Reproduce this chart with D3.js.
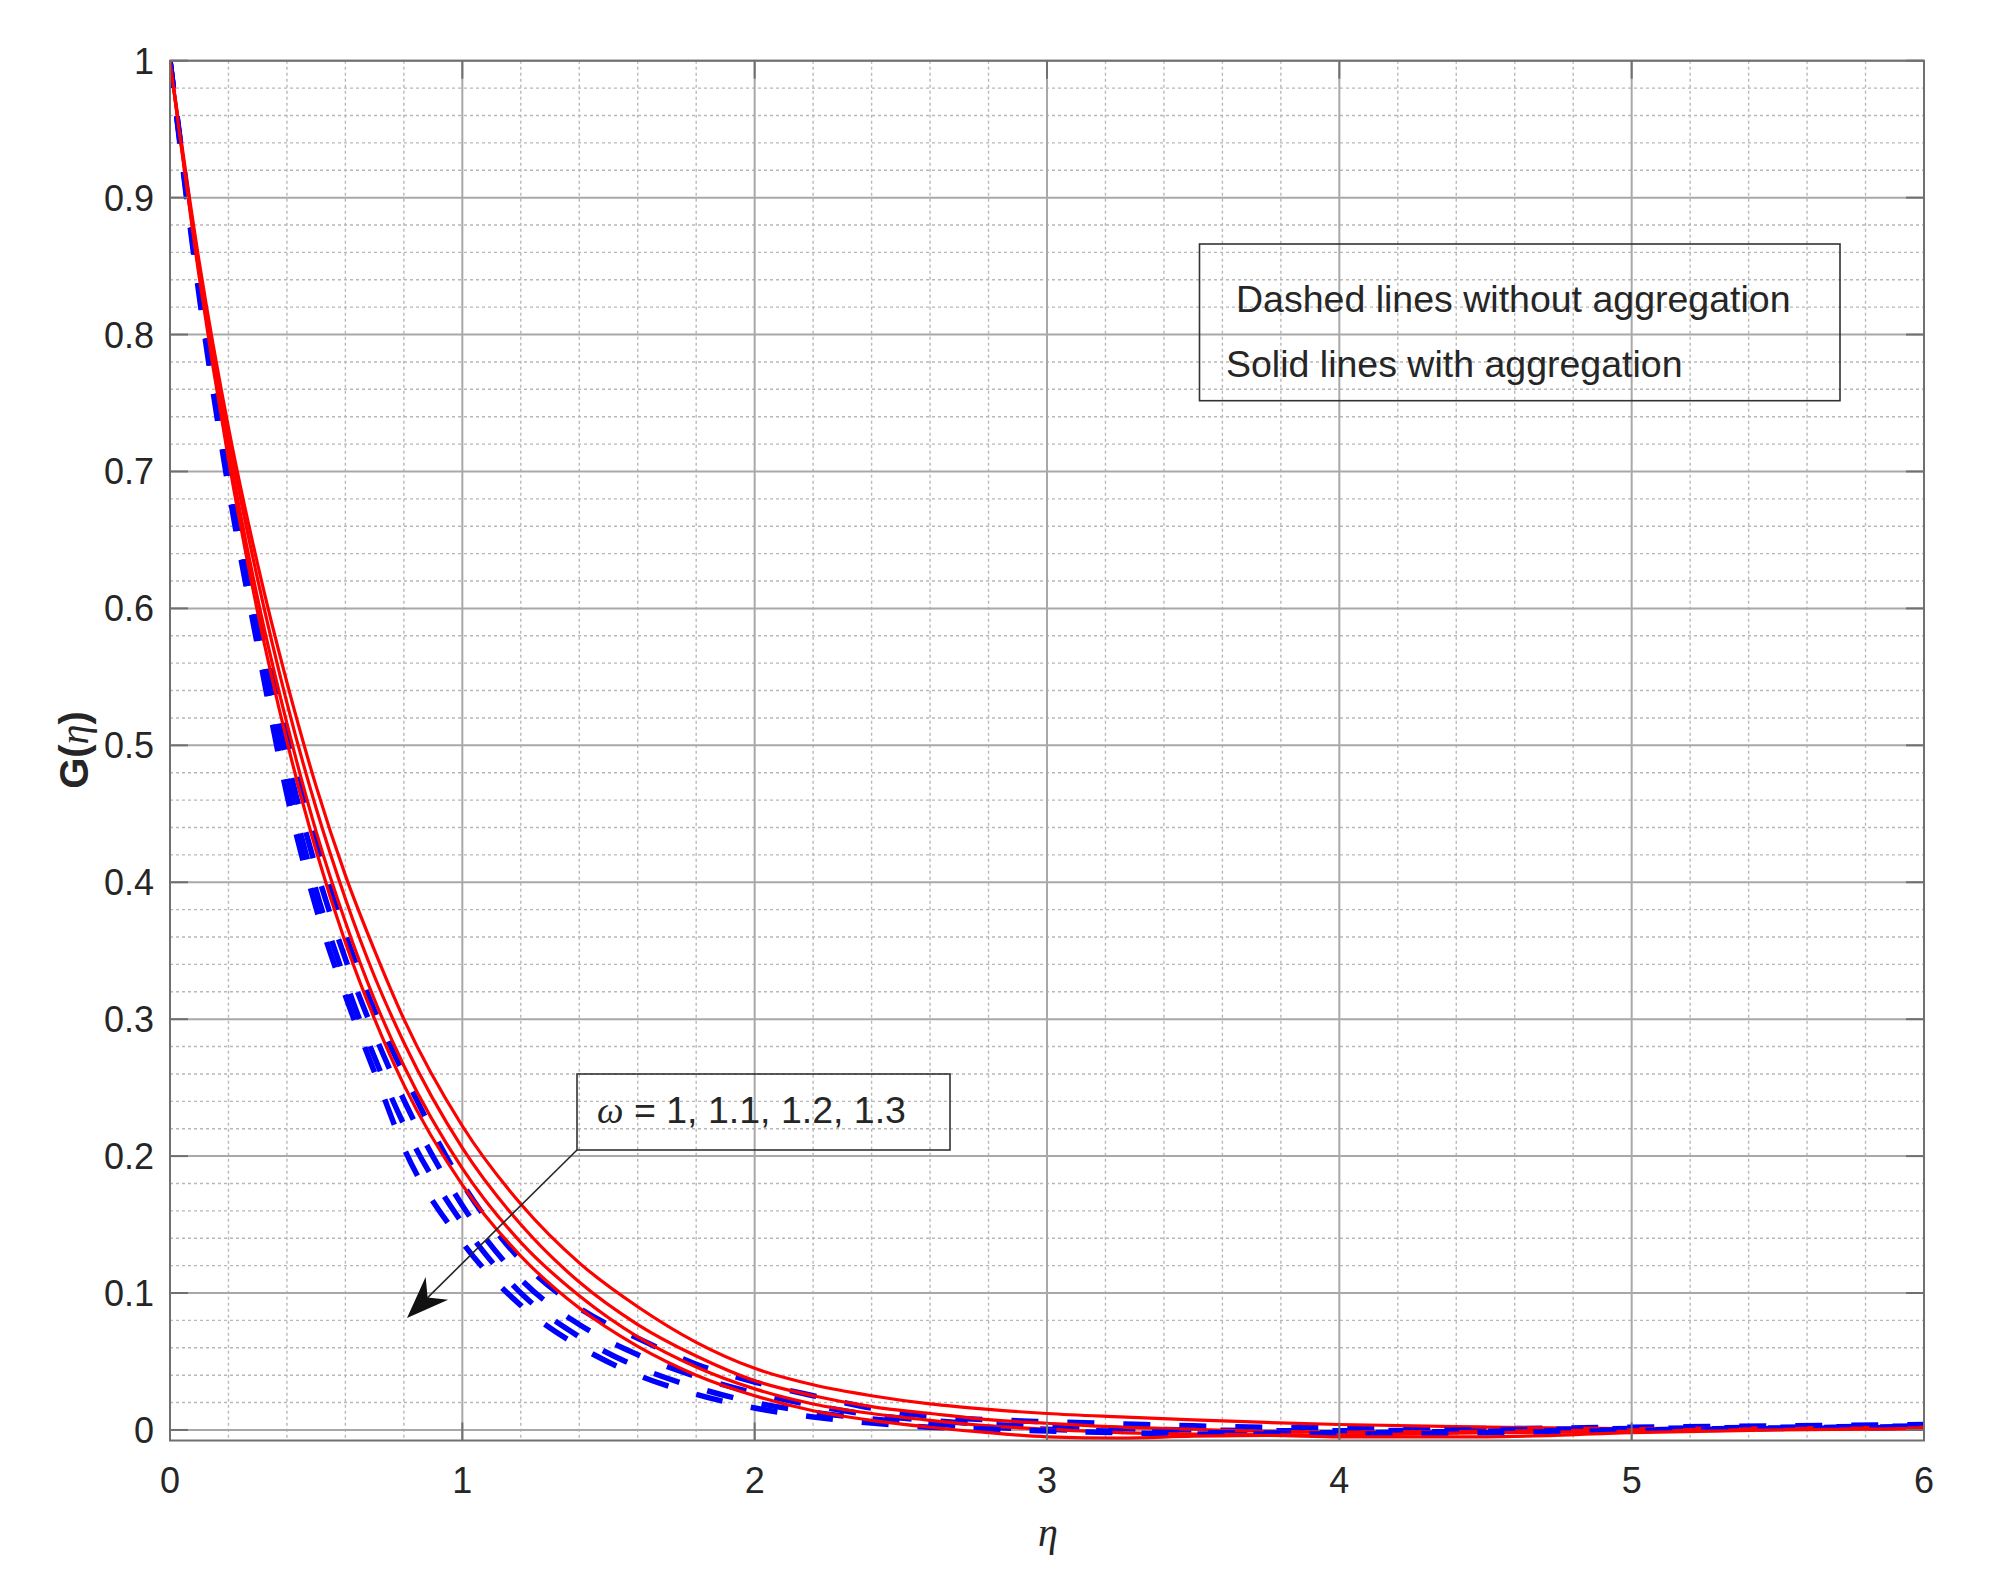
<!DOCTYPE html>
<html>
<head>
<meta charset="utf-8">
<script src="https://cdn.jsdelivr.net/npm/d3@7"></script>
<style>
  body { margin: 0; background: #fff; }
  text { font-family: "Liberation Sans", Arial, sans-serif; fill: #262626; }
</style>
</head>
<body>
<div id="chart"></div>
<script>
const eta = [0, 0.1, 0.2, 0.3, 0.4, 0.5, 0.6, 0.7, 0.8, 1.0, 1.2, 1.4, 1.6, 1.8, 2.0,
             2.2, 2.4, 2.6, 2.8, 3.0, 3.25, 3.5, 3.75, 4.0, 4.5, 5.0, 5.5, 6.0];

const omegas = [1, 1.1, 1.2, 1.3];

// dashed blue: without aggregation
const blueW1  = [1, 0.840, 0.705, 0.598, 0.505, 0.428, 0.362, 0.306, 0.260, 0.180, 0.124, 0.089, 0.067, 0.048, 0.035,
                 0.025, 0.016, 0.010, 0.0075, 0.006, 0.0045, 0.003, 0.002, 0.0015, 0.001, 0.002, 0.003, 0.004];
const blueW11 = [1, 0.836, 0.697, 0.586, 0.490, 0.410, 0.344, 0.289, 0.241, 0.164, 0.110, 0.077, 0.055, 0.039, 0.027,
                 0.018, 0.011, 0.007, 0.004, 0.0025, 0.001, 0.0, -0.0005, -0.0005, 0.0, 0.001, 0.002, 0.003];
const blueW12 = [1, 0.832, 0.692, 0.577, 0.476, 0.394, 0.328, 0.272, 0.223, 0.151, 0.100, 0.068, 0.046, 0.031, 0.020,
                 0.013, 0.008, 0.0045, 0.002, 0.0005, -0.001, -0.002, -0.0022, -0.002, -0.001, 0.0, 0.0015, 0.0025];
const blueW13 = [1, 0.828, 0.688, 0.572, 0.464, 0.381, 0.317, 0.261, 0.206, 0.137, 0.091, 0.061, 0.040, 0.026, 0.016,
                 0.0095, 0.005, 0.002, 0.0005, -0.0008, -0.002, -0.003, -0.003, -0.003, -0.002, -0.0005, 0.001, 0.002];

// solid red: with aggregation
const redW1  = [1, 0.853, 0.732, 0.632, 0.546, 0.470, 0.405, 0.350, 0.300, 0.222, 0.165, 0.122, 0.090, 0.064, 0.045,
                0.033, 0.025, 0.019, 0.015, 0.012, 0.0095, 0.0073, 0.0055, 0.004, 0.002, 0.001, 0.0015, 0.002];
const redW11 = [1, 0.848, 0.725, 0.621, 0.531, 0.454, 0.388, 0.331, 0.283, 0.206, 0.150, 0.108, 0.077, 0.054, 0.036,
                0.025, 0.017, 0.012, 0.0075, 0.0049, 0.002, 0.0005, -0.001, -0.0015, -0.001, 0.0, 0.001, 0.0015];
const redW12 = [1, 0.845, 0.716, 0.607, 0.516, 0.437, 0.371, 0.314, 0.266, 0.191, 0.137, 0.098, 0.068, 0.046, 0.030,
                0.019, 0.012, 0.007, 0.003, 0.0005, -0.002, -0.003, -0.0035, -0.0035, -0.002, -0.001, 0.0005, 0.001];
const redW13 = [1, 0.842, 0.709, 0.597, 0.503, 0.423, 0.356, 0.300, 0.252, 0.179, 0.127, 0.089, 0.061, 0.040, 0.025,
                0.014, 0.007, 0.002, -0.002, -0.005, -0.006, -0.0045, -0.004, -0.005, -0.005, -0.002, 0.0, 0.001];

const blueSeries = [blueW1, blueW11, blueW12, blueW13];
const redSeries = [redW1, redW11, redW12, redW13];

const xTicks = [0, 1, 2, 3, 4, 5, 6];
const yTicks = [0, 0.1, 0.2, 0.3, 0.4, 0.5, 0.6, 0.7, 0.8, 0.9, 1];
const legendLines = ["Dashed lines without aggregation", "Solid lines with aggregation"];
const omegaLabel = " = " + omegas.join(", ");

const W = 2000, H = 1588;
const plotL = 170, plotR = 1924, plotT = 60.7, plotB = 1440.5;

const svg = d3.select("#chart").append("svg")
    .attr("width", W)
    .attr("height", H);

const x = d3.scaleLinear().domain([0, 6]).range([plotL, plotR]);
const y = d3.scaleLinear().domain([-0.0077, 1]).range([plotB, plotT]);

// grid
const grid = svg.append("g");
const minorX = d3.range(0, 6.001, 0.2).filter(v => Math.abs(v - Math.round(v)) > 1e-6);
const minorY = d3.range(0, 1.001, 0.02).filter(v => Math.abs(v * 10 - Math.round(v * 10)) > 1e-6);

grid.selectAll(".mx").data(minorX).enter().append("line")
    .attr("x1", d => x(d)).attr("x2", d => x(d))
    .attr("y1", plotT).attr("y2", plotB)
    .attr("stroke", "#b8b8b8").attr("stroke-width", 1.4).attr("stroke-dasharray", "3,3");
grid.selectAll(".my").data(minorY).enter().append("line")
    .attr("x1", plotL).attr("x2", plotR)
    .attr("y1", d => y(d)).attr("y2", d => y(d))
    .attr("stroke", "#b8b8b8").attr("stroke-width", 1.4).attr("stroke-dasharray", "3,3");
grid.selectAll(".gx").data(xTicks).enter().append("line")
    .attr("x1", d => x(d)).attr("x2", d => x(d))
    .attr("y1", plotT).attr("y2", plotB)
    .attr("stroke", "#a8a8a8").attr("stroke-width", 2);
grid.selectAll(".gy").data(yTicks).enter().append("line")
    .attr("x1", plotL).attr("x2", plotR)
    .attr("y1", d => y(d)).attr("y2", d => y(d))
    .attr("stroke", "#a8a8a8").attr("stroke-width", 2);

// curves
svg.append("clipPath").attr("id", "plotclip")
  .append("rect")
    .attr("x", plotL).attr("y", plotT)
    .attr("width", plotR - plotL).attr("height", plotB - plotT);

const line = d3.line()
    .x((d, i) => x(eta[i]))
    .y(d => y(d))
    .curve(d3.curveMonotoneX);

const curves = svg.append("g").attr("clip-path", "url(#plotclip)");
omegas.forEach((w, k) => {
    curves.append("path")
        .attr("d", line(blueSeries[k]))
        .attr("fill", "none")
        .attr("stroke", "#0000ff")
        .attr("stroke-width", 5.5)
        .attr("stroke-dasharray", "27,29");
    curves.append("path")
        .attr("d", line(redSeries[k]))
        .attr("fill", "none")
        .attr("stroke", "#ff0000")
        .attr("stroke-width", 3.2);
});

// box and ticks
const axisColor = "#707070";
svg.append("rect")
    .attr("x", plotL).attr("y", plotT)
    .attr("width", plotR - plotL).attr("height", plotB - plotT)
    .attr("fill", "none").attr("stroke", axisColor).attr("stroke-width", 2);

const tl = 18;
const ticks = svg.append("g").attr("stroke", axisColor).attr("stroke-width", 2);
xTicks.forEach(t => {
    ticks.append("line").attr("x1", x(t)).attr("x2", x(t)).attr("y1", plotB).attr("y2", plotB - tl);
    ticks.append("line").attr("x1", x(t)).attr("x2", x(t)).attr("y1", plotT).attr("y2", plotT + tl);
});
yTicks.forEach(t => {
    ticks.append("line").attr("x1", plotL).attr("x2", plotL + tl).attr("y1", y(t)).attr("y2", y(t));
    ticks.append("line").attr("x1", plotR).attr("x2", plotR - tl).attr("y1", y(t)).attr("y2", y(t));
});

svg.append("g").selectAll("text").data(xTicks).enter().append("text")
    .attr("x", d => x(d))
    .attr("y", 1493)
    .attr("text-anchor", "middle")
    .attr("font-size", 36)
    .text(d => d);

svg.append("g").selectAll("text").data(yTicks).enter().append("text")
    .attr("x", 154)
    .attr("y", d => y(d) + 13)
    .attr("text-anchor", "end")
    .attr("font-size", 36)
    .text(d => d);

// axis labels
svg.append("text")
    .attr("x", 1048).attr("y", 1546)
    .attr("text-anchor", "middle")
    .attr("font-size", 40)
    .style("font-family", "'Liberation Serif', 'Times New Roman', serif")
    .style("font-style", "italic")
    .text("η");

const yl = svg.append("text")
    .attr("transform", "translate(88,750) rotate(-90)")
    .attr("text-anchor", "middle")
    .attr("font-size", 40)
    .attr("font-weight", "bold");
yl.append("tspan").text("G(");
yl.append("tspan")
    .style("font-family", "'Liberation Serif', serif")
    .style("font-style", "italic")
    .attr("font-weight", "normal")
    .text("η");
yl.append("tspan").text(")");

// legend text box
svg.append("rect")
    .attr("x", 1199.5).attr("y", 244)
    .attr("width", 640.5).attr("height", 156.7)
    .attr("fill", "none").attr("stroke", "#333").attr("stroke-width", 1.6);
svg.append("text").attr("x", 1236).attr("y", 311.5).attr("font-size", 37.5).text(legendLines[0]);
svg.append("text").attr("x", 1226).attr("y", 377).attr("font-size", 37.5).text(legendLines[1]);

// omega annotation with arrow
svg.append("rect")
    .attr("x", 577).attr("y", 1074)
    .attr("width", 373).attr("height", 76)
    .attr("fill", "none").attr("stroke", "#333").attr("stroke-width", 1.6);
const om = svg.append("text").attr("x", 597).attr("y", 1123).attr("font-size", 37.5);
om.append("tspan")
    .style("font-family", "'Liberation Serif', serif")
    .style("font-style", "italic")
    .text("ω");
om.append("tspan").text(omegaLabel);

const ax0 = 577, ay0 = 1150, ax1 = 407, ay1 = 1318;
const ang = Math.atan2(ay1 - ay0, ax1 - ax0);
const hl = 42, hw = 16, back = 29;
const ux = Math.cos(ang), uy = Math.sin(ang);
const px = -uy, py = ux;
const bx = ax1 - ux * hl, by = ay1 - uy * hl;
const nx = ax1 - ux * back, ny = ay1 - uy * back;
svg.append("line")
    .attr("x1", ax0).attr("y1", ay0).attr("x2", nx).attr("y2", ny)
    .attr("stroke", "#262626").attr("stroke-width", 1.6);
svg.append("path")
    .attr("d", `M${ax1},${ay1} L${bx + px * hw},${by + py * hw} L${nx},${ny} L${bx - px * hw},${by - py * hw} Z`)
    .attr("fill", "#111");
</script>
</body>
</html>
